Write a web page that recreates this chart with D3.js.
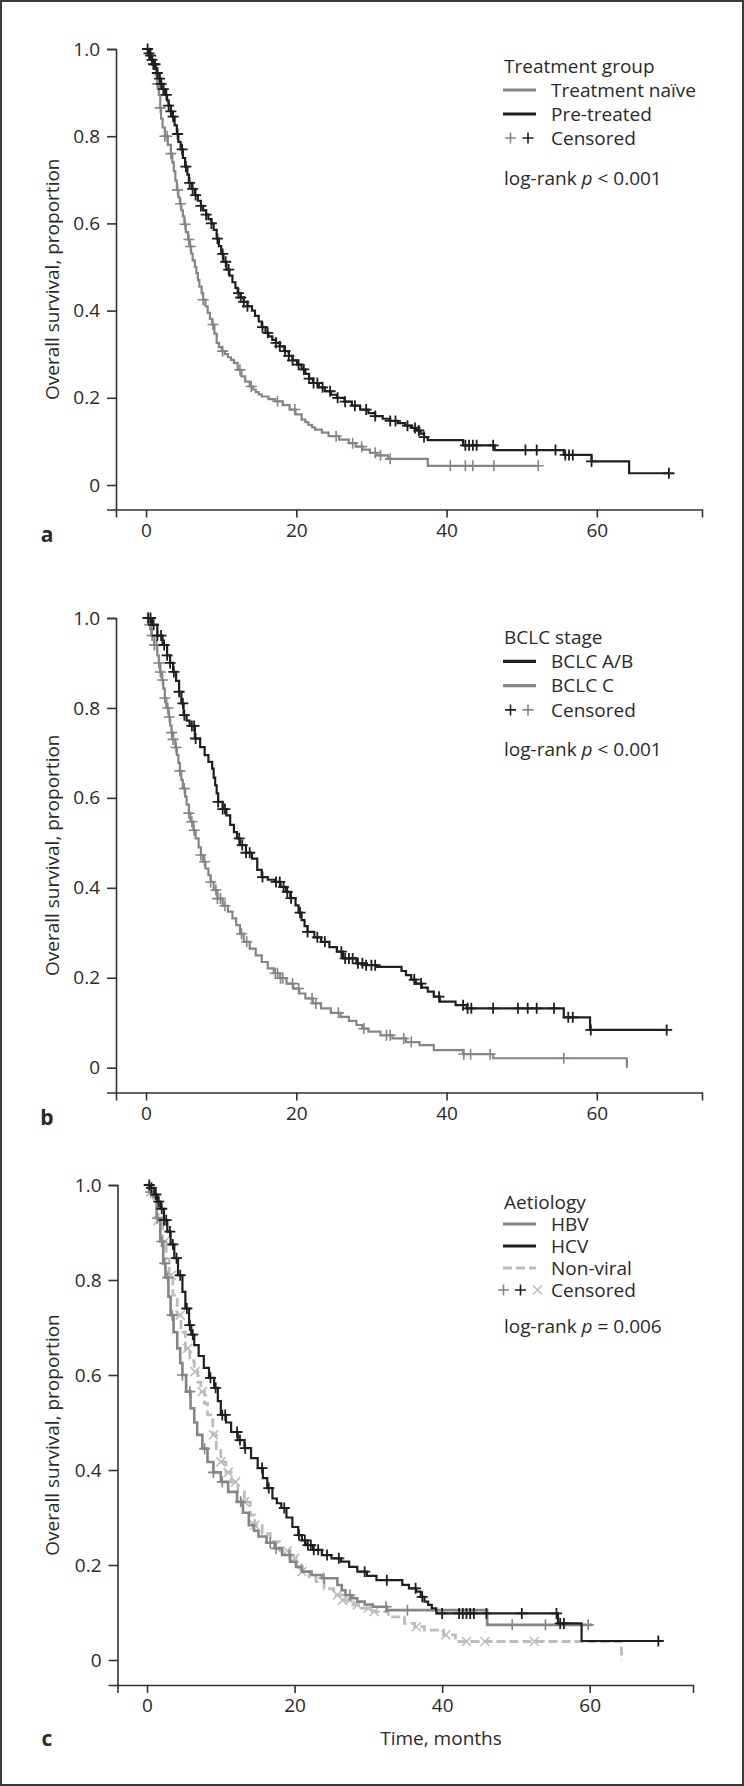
<!DOCTYPE html>
<html>
<head>
<meta charset="utf-8">
<script src="https://cdn.jsdelivr.net/npm/d3@7"></script>
<style>
  html, body { margin: 0; padding: 0; background: #fff; }
  svg text { font-family: 'Open Sans', sans-serif; fill: #2a2a2a; }
</style>
</head>
<body>
<div id="chart"></div>
<script>
// ---- axes ----
const xTicks = [0, 20, 40, 60];
const yTicks = [0, 0.2, 0.4, 0.6, 0.8, 1.0];
const xDomain = [-4, 74];

// ---- panel a: treatment group ----
const naiveTime = [0, 0.3, 0.5, 0.8, 1.0, 1.3, 1.5, 1.7, 1.9, 2.0, 2.2, 2.5, 2.9, 3.3, 3.5, 3.7, 3.9, 4.1, 4.3, 4.5, 4.7, 4.9, 5.1, 5.3, 5.6, 5.8, 6.0, 6.2, 6.5, 6.7, 6.9, 7.1, 7.4, 7.6, 7.9, 8.2, 8.5, 8.8, 9.1, 9.4, 9.7, 10.1, 10.5, 10.9, 11.3, 11.7, 12.2, 12.7, 13.2, 13.8, 14.2, 14.6, 15.0, 15.4, 16.3, 17.2, 18.2, 19.1, 19.9, 20.7, 21.2, 21.6, 22.1, 22.5, 23.4, 24.3, 25.7, 27.0, 27.9, 28.8, 29.8, 30.7, 32.2, 37.5, 52.2];
const naiveSurv = [1.0, 0.99, 0.98, 0.968, 0.955, 0.94, 0.92, 0.895, 0.865, 0.84, 0.82, 0.8, 0.78, 0.76, 0.74, 0.72, 0.698, 0.677, 0.66, 0.645, 0.63, 0.616, 0.598, 0.58, 0.563, 0.547, 0.531, 0.515, 0.5, 0.486, 0.47, 0.455, 0.44, 0.425, 0.41, 0.395, 0.381, 0.368, 0.347, 0.326, 0.316, 0.307, 0.3, 0.293, 0.287, 0.28, 0.264, 0.249, 0.237, 0.226, 0.219, 0.213, 0.208, 0.203, 0.197, 0.192, 0.183, 0.173, 0.162, 0.15, 0.144, 0.138, 0.132, 0.127, 0.12, 0.112, 0.104, 0.096, 0.088, 0.081, 0.074, 0.068, 0.06, 0.044, 0.044];
const naiveCens = [1.5, 1.9, 2.5, 2.8, 3.3, 4.2, 4.6, 5.2, 5.7, 5.9, 7.6, 8.9, 10.2, 12.5, 14.0, 17.5, 19.8, 25.3, 27.5, 28.7, 30.5, 31.2, 32.5, 40.5, 42.5, 43.5, 46.3, 52.2];

const preTime = [0, 0.3, 0.5, 0.8, 1, 1.3, 1.5, 1.8, 2, 2.3, 2.5, 2.8, 3, 3.3, 3.5, 3.8, 4.1, 4.3, 4.6, 4.9, 5.2, 5.5, 5.7, 6.1, 6.5, 6.9, 7.3, 7.6, 8, 8.3, 8.7, 9.0, 9.4, 9.7, 10.0, 10.3, 10.7, 11.1, 11.5, 11.9, 12.2, 12.6, 13.0, 13.5, 14.1, 14.5, 15.0, 15.4, 15.9, 16.3, 16.8, 17.3, 17.8, 18.4, 19.0, 19.5, 20.1, 20.7, 21.2, 21.7, 22.2, 23.0, 23.8, 24.6, 25.4, 26.4, 27.4, 28.5, 29.6, 30.5, 31.5, 32.5, 33.5, 34.5, 35.4, 36.0, 36.5, 37.0, 37.5, 42.2, 46.4, 55.6, 59.3, 64.3, 69.6];
const preSurv = [1.0, 0.99, 0.985, 0.975, 0.965, 0.955, 0.945, 0.932, 0.92, 0.908, 0.895, 0.882, 0.87, 0.857, 0.845, 0.825, 0.805, 0.787, 0.77, 0.75, 0.73, 0.712, 0.693, 0.679, 0.665, 0.652, 0.64, 0.63, 0.62, 0.61, 0.6, 0.585, 0.565, 0.548, 0.53, 0.512, 0.494, 0.48, 0.465, 0.452, 0.44, 0.43, 0.42, 0.41, 0.4, 0.388, 0.375, 0.362, 0.349, 0.341, 0.333, 0.326, 0.318, 0.307, 0.296, 0.286, 0.276, 0.265, 0.255, 0.244, 0.234, 0.224, 0.215, 0.207, 0.2, 0.191, 0.182, 0.173, 0.165, 0.158, 0.152, 0.147, 0.142, 0.136, 0.131, 0.125, 0.118, 0.11, 0.103, 0.091, 0.08, 0.069, 0.054, 0.027, 0.027];
const preCens = [0.2, 0.4, 0.6, 0.8, 1.0, 1.2, 1.5, 1.8, 2.0, 2.3, 2.7, 3.0, 3.3, 3.6, 4.2, 4.8, 5.3, 5.8, 6.2, 6.6, 7.3, 8.0, 8.7, 9.5, 10.2, 10.6, 11.0, 12.3, 12.6, 13.0, 13.5, 15.5, 16.2, 17.3, 17.8, 18.5, 19.0, 19.5, 20.3, 21.0, 21.7, 22.3, 22.8, 23.5, 24.5, 25.5, 26.5, 27.8, 29.3, 30.5, 32.5, 33.2, 34.8, 35.8, 36.3, 37.0, 42.5, 43.0, 43.5, 44.0, 46.2, 50.5, 52.0, 54.5, 55.8, 56.3, 56.8, 59.3, 69.6];

// ---- panel b: BCLC stage ----
const abTime = [0, 0.8, 1.5, 2.2, 2.8, 3.2, 3.6, 4.0, 4.4, 4.7, 5.0, 5.4, 5.8, 6.5, 7.2, 7.8, 8.3, 8.8, 9.0, 9.2, 9.4, 9.6, 10.2, 10.7, 11.2, 11.7, 12.1, 12.5, 13.3, 14.1, 14.8, 15.4, 16.2, 17.2, 17.9, 18.6, 19.2, 19.9, 20.3, 20.7, 21.1, 21.5, 22.4, 23.3, 24.4, 25.4, 26.2, 28.0, 29.3, 30.7, 34.0, 34.6, 35.3, 35.9, 36.7, 37.5, 38.3, 39.1, 41.2, 42.7, 55.6, 59.1, 69.3];
const abSurv = [1.0, 0.985, 0.961, 0.94, 0.917, 0.9, 0.88, 0.86, 0.836, 0.81, 0.784, 0.772, 0.76, 0.732, 0.713, 0.695, 0.68, 0.665, 0.645, 0.628, 0.61, 0.591, 0.575, 0.561, 0.54, 0.524, 0.51, 0.495, 0.478, 0.465, 0.44, 0.424, 0.418, 0.413, 0.402, 0.391, 0.377, 0.361, 0.345, 0.328, 0.315, 0.302, 0.29, 0.28, 0.268, 0.258, 0.243, 0.232, 0.228, 0.224, 0.215, 0.206, 0.196, 0.187, 0.178, 0.169, 0.158, 0.147, 0.139, 0.132, 0.112, 0.084, 0.084];
const abCens = [0.3, 0.6, 1.0, 1.5, 2.0, 2.4, 2.8, 3.2, 3.7, 4.4, 4.9, 5.1, 6.1, 6.4, 6.6, 9.6, 10.2, 10.5, 12.4, 12.8, 13.3, 13.8, 15.5, 17.3, 17.8, 18.3, 18.8, 19.3, 20.5, 21.5, 22.8, 23.8, 26.0, 26.5, 27.0, 27.5, 28.2, 28.8, 29.3, 30.0, 30.5, 35.7, 36.6, 39.0, 42.2, 42.8, 43.3, 46.2, 49.5, 50.8, 52.0, 54.3, 56.2, 56.8, 59.2, 69.3];

const cTime = [0, 0.3, 0.7, 1.1, 1.5, 1.7, 1.9, 2.1, 2.3, 2.5, 2.7, 3.0, 3.2, 3.4, 3.6, 3.9, 4.1, 4.3, 4.5, 4.7, 4.9, 5.2, 5.4, 5.7, 5.9, 6.3, 6.6, 7.0, 7.3, 7.6, 7.9, 8.3, 8.6, 9.0, 9.5, 10.2, 10.9, 11.5, 12.0, 12.5, 13.0, 13.8, 14.6, 15.4, 16.2, 17.0, 17.8, 18.7, 19.6, 20.4, 21.2, 22.2, 23.3, 24.6, 25.9, 27.0, 28.0, 28.8, 29.6, 31.2, 32.8, 34.6, 36.4, 38.3, 42.2, 46.2, 64.0];
const cSurv = [1.0, 0.985, 0.961, 0.94, 0.917, 0.9, 0.88, 0.862, 0.843, 0.822, 0.8, 0.78, 0.761, 0.745, 0.73, 0.712, 0.695, 0.678, 0.66, 0.64, 0.621, 0.603, 0.585, 0.566, 0.547, 0.528, 0.51, 0.49, 0.473, 0.458, 0.443, 0.428, 0.413, 0.395, 0.376, 0.36, 0.347, 0.332, 0.317, 0.298, 0.28, 0.265, 0.25, 0.235, 0.221, 0.21, 0.199, 0.187, 0.176, 0.165, 0.154, 0.143, 0.132, 0.122, 0.113, 0.104, 0.095, 0.087, 0.08, 0.072, 0.065, 0.057, 0.05, 0.039, 0.03, 0.021, 0];
const cCens = [0.2, 0.5, 0.8, 1.1, 1.4, 1.7, 1.9, 2.2, 2.5, 2.9, 3.1, 3.4, 3.6, 4.0, 4.5, 5.1, 5.7, 6.1, 6.4, 7.3, 7.8, 8.6, 9.3, 9.5, 9.9, 10.5, 12.7, 13.4, 17.2, 17.5, 17.9, 18.2, 19.5, 20.3, 22.1, 22.6, 25.6, 29.0, 32.0, 32.5, 34.3, 35.3, 42.3, 43.2, 45.8, 55.6];

// ---- panel c: aetiology ----
const hbvTime = [0, 0.4, 0.9, 1.3, 1.8, 2.2, 2.5, 2.9, 3.2, 3.6, 4.1, 4.5, 4.8, 5.3, 5.9, 6.4, 6.8, 7.5, 8.2, 9.0, 10.0, 11.0, 12.2, 13.0, 13.8, 14.5, 15.1, 16.2, 17.3, 18.3, 19.4, 20.2, 21.0, 22.3, 23.7, 25.8, 26.4, 26.9, 27.7, 28.5, 29.5, 30.6, 32.5, 46.1, 60.3];
const hbvSurv = [1.0, 0.985, 0.975, 0.93, 0.881, 0.835, 0.805, 0.765, 0.726, 0.69, 0.656, 0.625, 0.6, 0.565, 0.53, 0.5, 0.474, 0.445, 0.417, 0.395, 0.375, 0.354, 0.333, 0.31, 0.284, 0.272, 0.26, 0.247, 0.235, 0.221, 0.207, 0.196, 0.186, 0.179, 0.172, 0.158, 0.147, 0.137, 0.13, 0.123, 0.117, 0.112, 0.105, 0.074, 0.074];
const hbvCens = [0.5, 1.4, 2.0, 2.4, 2.8, 3.4, 4.8, 5.8, 7.8, 9.0, 10.2, 12.7, 16.7, 17.5, 19.3, 24.0, 27.5, 32.4, 35.3, 49.5, 54.0, 59.8];

const hcvTime = [0, 0.5, 1.0, 1.4, 1.85, 2.3, 2.75, 3.2, 3.7, 4.2, 4.8, 5.2, 5.7, 6.0, 6.4, 7.0, 7.7, 8.4, 9.1, 9.6, 10.0, 10.7, 11.4, 12.3, 13.2, 14.1, 15.0, 15.7, 16.3, 17.0, 17.6, 18.2, 18.9, 19.7, 20.5, 21.0, 21.5, 22.5, 23.7, 25.0, 26.3, 27.4, 28.5, 29.8, 31.1, 34.6, 35.5, 36.5, 37.1, 37.6, 38.1, 38.6, 39.2, 55.7, 58.9, 69.3];
const hcvSurv = [1.0, 0.994, 0.98, 0.965, 0.95, 0.926, 0.902, 0.875, 0.846, 0.81, 0.775, 0.74, 0.705, 0.685, 0.663, 0.64, 0.615, 0.594, 0.573, 0.545, 0.516, 0.5, 0.48, 0.463, 0.446, 0.425, 0.404, 0.383, 0.362, 0.34, 0.33, 0.32, 0.3, 0.28, 0.263, 0.252, 0.242, 0.232, 0.221, 0.214, 0.207, 0.196, 0.186, 0.177, 0.168, 0.158, 0.151, 0.144, 0.133, 0.123, 0.116, 0.109, 0.098, 0.077, 0.04, 0.04];
const hcvCens = [0.3, 0.6, 1.2, 1.6, 2.0, 2.3, 2.6, 3.1, 3.5, 4.0, 4.5, 5.4, 5.8, 6.2, 8.6, 9.3, 10.2, 10.6, 12.2, 12.6, 13.3, 15.6, 16.5, 18.6, 20.6, 21.4, 21.8, 22.2, 22.6, 23.2, 24.4, 26.0, 29.5, 32.5, 36.4, 37.3, 40.0, 42.3, 42.8, 43.3, 43.8, 44.3, 46.0, 50.8, 55.5, 56.0, 56.5, 69.3];

const nvTime = [0, 0.4, 0.9, 1.5, 2.1, 2.6, 3.0, 3.5, 4.1, 4.6, 5.2, 5.8, 6.4, 6.9, 7.3, 7.8, 8.2, 8.9, 9.4, 10.0, 10.7, 11.4, 12.3, 13.2, 14.0, 14.6, 15.6, 16.7, 18.0, 19.4, 20.2, 21.0, 22.0, 22.9, 24.0, 25.3, 26.5, 27.9, 29.2, 30.6, 32.7, 34.9, 36.3, 37.6, 40.2, 41.8, 64.3];
const nvSurv = [1.0, 0.985, 0.972, 0.925, 0.881, 0.845, 0.81, 0.768, 0.726, 0.69, 0.656, 0.63, 0.607, 0.585, 0.565, 0.54, 0.516, 0.474, 0.445, 0.417, 0.395, 0.375, 0.354, 0.333, 0.305, 0.284, 0.266, 0.249, 0.23, 0.214, 0.2, 0.186, 0.175, 0.165, 0.15, 0.137, 0.126, 0.116, 0.109, 0.102, 0.091, 0.077, 0.07, 0.063, 0.053, 0.039, 0];
const nvCens = [0.5, 1.5, 2.4, 3.3, 4.5, 5.5, 6.5, 7.5, 9.0, 10.0, 11.0, 12.0, 13.2, 14.6, 19.0, 20.0, 21.0, 25.8, 26.5, 27.5, 28.5, 30.0, 30.8, 36.5, 40.5, 43.3, 45.8, 52.5];

const BLACK = '#1f1f1f', GREY = '#858585', LIGHT = '#bdbdbd';

const panels = [
  { letter: 'a', top: 49, zero: 485, axisY: 509.5, left: 116, right: 702,
    legendTop: 66, legendStep: 24, pGap: 40,
    legendTitle: 'Treatment group', pText: ' < 0.001',
    series: [
      { name: 'Treatment naïve', t: naiveTime, s: naiveSurv, cens: naiveCens, color: GREY, mark: '+' },
      { name: 'Pre-treated', t: preTime, s: preSurv, cens: preCens, color: BLACK, mark: '+' }
    ] },
  { letter: 'b', top: 618, zero: 1067.7, axisY: 1092.5, left: 116, right: 702,
    legendTop: 637, legendStep: 24.3, pGap: 39,
    legendTitle: 'BCLC stage', pText: ' < 0.001',
    series: [
      { name: 'BCLC C', t: cTime, s: cSurv, cens: cCens, color: GREY, mark: '+', legendIdx: 1 },
      { name: 'BCLC A/B', t: abTime, s: abSurv, cens: abCens, color: BLACK, mark: '+', legendIdx: 0 }
    ] },
  { letter: 'c', top: 1185, zero: 1660, axisY: 1685, left: 117.5, right: 693,
    legendTop: 1202, legendStep: 22, pGap: 36,
    legendTitle: 'Aetiology', pText: ' = 0.006', xTitle: 'Time, months',
    series: [
      { name: 'Non-viral', t: nvTime, s: nvSurv, cens: nvCens, color: LIGHT, mark: 'x', dash: '9,4', width: 2.8, legendIdx: 2 },
      { name: 'HBV', t: hbvTime, s: hbvSurv, cens: hbvCens, color: GREY, mark: '+', width: 2.6, legendIdx: 0 },
      { name: 'HCV', t: hcvTime, s: hcvSurv, cens: hcvCens, color: BLACK, mark: '+', legendIdx: 1 }
    ] }
];

const W = 744, H = 1786;
const svg = d3.select('#chart').append('svg')
  .attr('width', W).attr('height', H);

svg.append('rect')
  .attr('x', 1).attr('y', 1).attr('width', W - 2).attr('height', H - 2)
  .attr('fill', '#fff').attr('stroke', '#3a3a3a').attr('stroke-width', 2);

function survAt(times, survs, t) {
  const i = d3.bisectRight(times, t) - 1;
  return survs[Math.max(0, i)];
}

function markPath(type, cx, cy, r) {
  if (type === 'x') {
    return 'M' + (cx - r) + ',' + (cy - r) + 'L' + (cx + r) + ',' + (cy + r) +
           'M' + (cx - r) + ',' + (cy + r) + 'L' + (cx + r) + ',' + (cy - r);
  }
  return 'M' + (cx - r) + ',' + cy + 'H' + (cx + r) + 'M' + cx + ',' + (cy - r) + 'V' + (cy + r);
}

panels.forEach(function (p) {
  const g = svg.append('g');
  const low = -(p.axisY - p.zero) / (p.zero - p.top);

  const x = d3.scaleLinear().domain(xDomain).range([p.left, p.right]);
  const y = d3.scaleLinear().domain([low, 1]).range([p.axisY, p.top]);

  // axes
  const yAxis = g.append('g')
    .attr('transform', 'translate(' + p.left + ',0)')
    .call(d3.axisLeft(y).tickValues(yTicks).tickSizeOuter(0).tickSize(9).tickPadding(7)
      .tickFormat(function (d) { return d === 0 ? '0' : d3.format('.1f')(d); }));
  const xAxis = g.append('g')
    .attr('transform', 'translate(0,' + p.axisY + ')')
    .call(d3.axisBottom(x).tickValues(xTicks).tickSizeOuter(0).tickSize(8).tickPadding(6));

  [yAxis, xAxis].forEach(function (ax) {
    ax.select('.domain').attr('stroke', '#333').attr('stroke-width', 1.6);
    ax.selectAll('.tick line').attr('stroke', '#333').attr('stroke-width', 1.6);
    ax.selectAll('.tick text')
      .style('font-family', "'Open Sans', sans-serif")
      .style('font-size', '19px').attr('fill', '#2a2a2a');
  });

  g.append('text')
    .attr('transform', 'translate(52,' + ((p.top + p.axisY) / 2) + ') rotate(-90)')
    .attr('text-anchor', 'middle').attr('dy', '0.35em')
    .style('font-size', '19px')
    .text('Overall survival, proportion');

  const labelY = p.xTitle ? p.axisY + 53.5 : p.axisY + 25;
  g.append('text')
    .attr('x', 47).attr('y', labelY).attr('dy', '0.35em')
    .attr('text-anchor', 'middle')
    .style('font-size', '21px').style('font-weight', 'bold')
    .text(p.letter);

  if (p.xTitle) {
    g.append('text')
      .attr('x', 441).attr('y', p.axisY + 53.5).attr('dy', '0.35em')
      .attr('text-anchor', 'middle')
      .style('font-size', '19px')
      .text(p.xTitle);
  }

  // curves
  const line = d3.line()
    .x(function (d) { return x(d[0]); })
    .y(function (d) { return y(d[1]); })
    .curve(d3.curveStepAfter);

  p.series.forEach(function (s) {
    const pts = s.t.map(function (t, i) { return [t, s.s[i]]; });
    g.append('path')
      .datum(pts)
      .attr('d', line)
      .attr('fill', 'none')
      .attr('stroke', s.color)
      .attr('stroke-width', s.width || 2.2)
      .attr('stroke-dasharray', s.dash || null);

    g.append('g').selectAll('path')
      .data(s.cens)
      .join('path')
      .attr('d', function (t) {
        return markPath(s.mark, x(t), y(survAt(s.t, s.s, t)), s.mark === 'x' ? 4.5 : 5.5);
      })
      .attr('fill', 'none')
      .attr('stroke', s.color)
      .attr('stroke-width', s.color === BLACK ? 1.8 : 1.6);
  });

  // legend
  const lg = g.append('g');
  const lx = 504;
  lg.append('text').attr('x', lx).attr('y', p.legendTop).attr('dy', '0.35em')
    .style('font-size', '19px').text(p.legendTitle);

  p.series.forEach(function (s, i) {
    const idx = s.legendIdx !== undefined ? s.legendIdx : i;
    const ry = p.legendTop + p.legendStep * (idx + 1);
    lg.append('line')
      .attr('x1', 503).attr('x2', 536).attr('y1', ry).attr('y2', ry)
      .attr('stroke', s.color).attr('stroke-width', 3.2)
      .attr('stroke-dasharray', s.dash || null);
    lg.append('text').attr('x', 551).attr('y', ry).attr('dy', '0.35em')
      .style('font-size', '19px').text(s.name);
  });

  const cy = p.legendTop + p.legendStep * (p.series.length + 1);
  const ordered = p.series.slice().sort(function (a, b) {
    const ia = a.legendIdx !== undefined ? a.legendIdx : p.series.indexOf(a);
    const ib = b.legendIdx !== undefined ? b.legendIdx : p.series.indexOf(b);
    return ia - ib;
  });
  const markStep = ordered.length === 3 ? 17 : 17.5;
  const mx0 = ordered.length === 3 ? 503.5 : 510.5;
  ordered.forEach(function (s, i) {
    lg.append('path')
      .attr('d', markPath(s.mark, mx0 + i * markStep, cy, s.mark === 'x' ? 4.5 : 5.5))
      .attr('fill', 'none').attr('stroke', s.color).attr('stroke-width', 1.6);
  });
  lg.append('text').attr('x', 551).attr('y', cy).attr('dy', '0.35em')
    .style('font-size', '19px').text('Censored');

  const pt = lg.append('text').attr('x', lx).attr('y', cy + p.pGap).attr('dy', '0.35em')
    .style('font-size', '19px');
  pt.append('tspan').text('log-rank ');
  pt.append('tspan').style('font-style', 'italic').text('p');
  pt.append('tspan').text(p.pText);
});
</script>
</body>
</html>
